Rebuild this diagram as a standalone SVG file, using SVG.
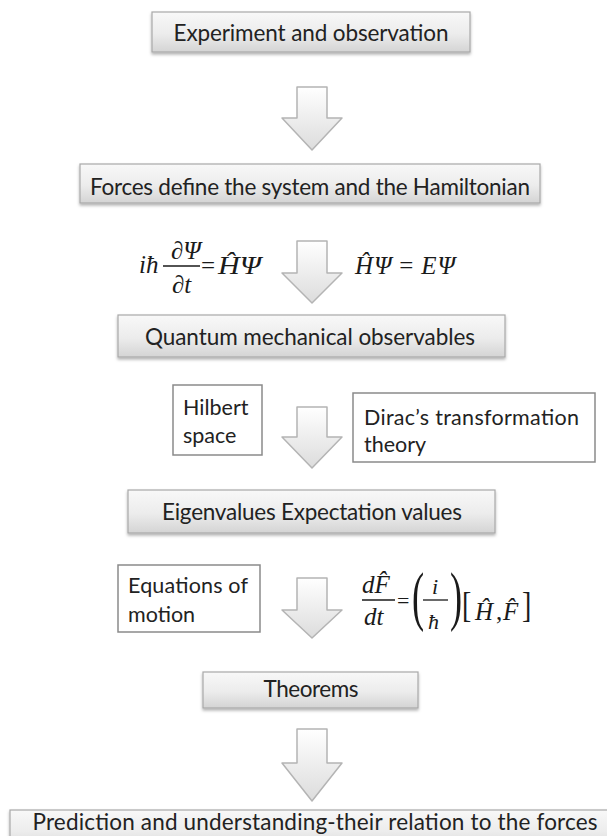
<svg xmlns="http://www.w3.org/2000/svg" width="607" height="836" viewBox="0 0 607 836">
  <defs>
    <linearGradient id="boxGrad" x1="0" y1="0" x2="0" y2="1">
      <stop offset="0" stop-color="#f8f8f8"/>
      <stop offset="0.55" stop-color="#ececec"/>
      <stop offset="1" stop-color="#d4d4d4"/>
    </linearGradient>
    <linearGradient id="arrowGrad" x1="0" y1="0" x2="0" y2="1">
      <stop offset="0" stop-color="#ffffff"/>
      <stop offset="1" stop-color="#dcdcdc"/>
    </linearGradient>
    <filter id="shadow" x="-5%" y="-20%" width="110%" height="150%">
      <feDropShadow dx="0" dy="2" stdDeviation="1.5" flood-color="#000" flood-opacity="0.3"/>
    </filter>
  </defs>
  <style>
    .gbox { fill: url(#boxGrad); stroke: #a9a9a9; stroke-width: 1.2; filter: url(#shadow); }
    .wbox { fill: #ffffff; stroke: #8a8a8a; stroke-width: 1.5; }
    .lbl { font-family: Lato, "Liberation Sans", sans-serif; font-size: 22.5px; fill: #222; text-anchor: middle; }
    .lbs { font-family: Lato, "Liberation Sans", sans-serif; font-size: 21.5px; fill: #222; }
    .m { font-family: "Liberation Serif", "DejaVu Serif", serif; font-style: italic; font-size: 25px; fill: #1a1a1a; }
    .mu { font-family: "Liberation Serif", "DejaVu Serif", serif; font-size: 25px; fill: #1a1a1a; }
    .arrow { fill: url(#arrowGrad); stroke: #b4b4b4; stroke-width: 1.5; stroke-linejoin: round; }
    .fl { stroke: #1a1a1a; stroke-width: 1.3; }
  </style>

  <g id="connectors">
    <path class="arrow" d="M297,87 H327 V118 H342 L312,150 L282,118 H297 Z"/>
    <path class="arrow" d="M297,241 H327 V273 H342 L312,303 L282,273 H297 Z"/>
    <path class="arrow" d="M297,407 H327 V437 H342 L312,468 L282,437 H297 Z"/>
    <path class="arrow" d="M297,578 H327 V610 H342 L312,638 L282,610 H297 Z"/>
    <path class="arrow" d="M297,729 H327 V763 H342 L312,801 L282,763 H297 Z"/>
  </g>

  <g id="experiment">
    <rect class="gbox" x="152" y="12" width="318" height="40"/>
    <text class="lbl" x="311" y="41" textLength="275">Experiment and observation</text>
  </g>

  <g id="forces">
    <rect class="gbox" x="80" y="164" width="460" height="39"/>
    <text class="lbl" x="310" y="195" textLength="440">Forces define the system and the Hamiltonian</text>
  </g>

  <g id="schrodinger-td">
    <text class="m" x="139" y="273">iħ</text>
    <text class="m" x="171" y="259">∂Ψ</text>
    <line class="fl" x1="163" y1="266" x2="200" y2="266"/>
    <text class="m" x="172" y="293">∂t</text>
    <text class="mu" x="201" y="274">=</text>
    <text class="m" x="218" y="274" textLength="43" lengthAdjust="spacingAndGlyphs">ĤΨ</text>
  </g>

  <g id="schrodinger-ti">
    <text class="m" x="355" y="274" textLength="100">ĤΨ <tspan font-style="normal">=</tspan> EΨ</text>
  </g>

  <g id="observables">
    <rect class="gbox" x="118" y="315" width="387" height="42"/>
    <text class="lbl" x="310" y="345" textLength="330">Quantum mechanical observables</text>
  </g>

  <g id="hilbert">
    <rect class="wbox" x="173" y="385" width="89" height="70"/>
    <text class="lbs" x="183" y="415">Hilbert</text>
    <text class="lbs" x="183" y="443">space</text>
  </g>

  <g id="dirac">
    <rect class="wbox" x="353" y="393" width="242" height="69"/>
    <text class="lbs" x="364" y="425" textLength="215">Dirac’s transformation</text>
    <text class="lbs" x="364" y="452">theory</text>
  </g>

  <g id="eigenvalues">
    <rect class="gbox" x="128" y="490" width="367" height="43"/>
    <text class="lbl" x="312" y="520" textLength="300">Eigenvalues Expectation values</text>
  </g>

  <g id="equations-of-motion">
    <rect class="wbox" x="118" y="565" width="142" height="67"/>
    <text class="lbs" x="128" y="593" textLength="120">Equations of</text>
    <text class="lbs" x="128" y="622">motion</text>
  </g>

  <g id="heisenberg">
    <text class="m" x="362" y="593">dF̂</text>
    <line class="fl" x1="362" y1="600" x2="395" y2="600"/>
    <text class="m" x="364" y="625">dt</text>
    <text class="mu" x="397" y="608" style="font-size:22px">=</text>
    <text class="mu" x="412" y="618" style="font-size:66px" transform="translate(412 618) scale(0.55 1) translate(-412 -618)">(</text>
    <text class="m" x="432" y="594" style="font-size:22px">i</text>
    <line class="fl" x1="423" y1="600" x2="448" y2="600"/>
    <text class="m" x="428" y="629" style="font-size:22px">ħ</text>
    <text class="mu" x="450" y="618" style="font-size:66px" transform="translate(450 618) scale(0.55 1) translate(-450 -618)">)</text>
    <text class="mu" x="462" y="617" style="font-size:35px" transform="translate(462 617) scale(0.8 1) translate(-462 -617)">[</text>
    <text class="m" x="475" y="620">Ĥ</text>
    <text class="mu" x="496" y="620">,</text>
    <text class="m" x="503" y="620">F̂</text>
    <text class="mu" x="522" y="617" style="font-size:35px" transform="translate(522 617) scale(0.8 1) translate(-522 -617)">]</text>
  </g>

  <g id="theorems">
    <rect class="gbox" x="203" y="672" width="215" height="36"/>
    <text class="lbl" x="311" y="697" textLength="95">Theorems</text>
  </g>

  <g id="prediction">
    <rect class="gbox" x="10" y="810" width="620" height="40"/>
    <text class="lbl" x="315" y="830" textLength="565">Prediction and understanding-their relation to the forces</text>
  </g>
</svg>
